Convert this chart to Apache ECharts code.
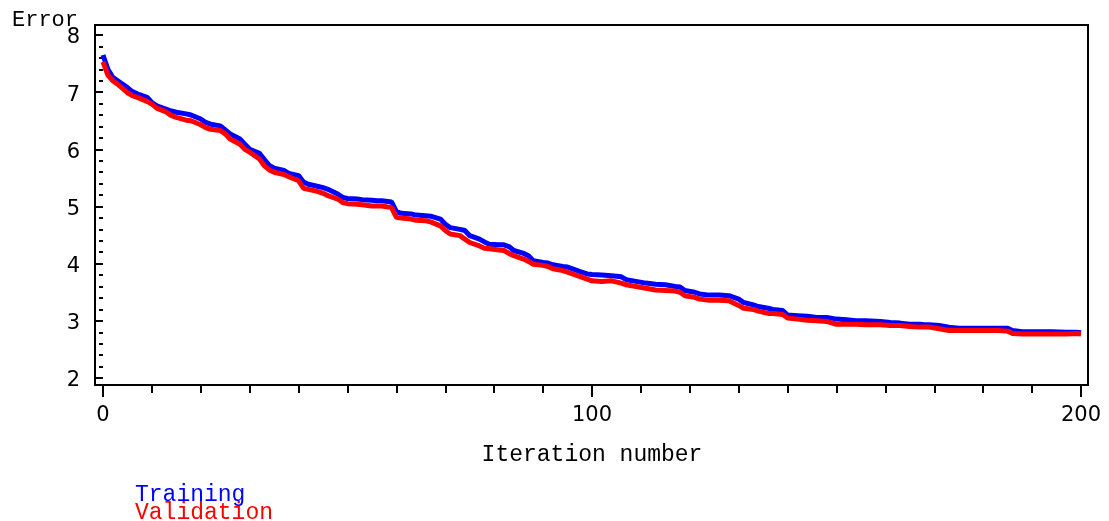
<!DOCTYPE html>
<html>
<head>
<meta charset="utf-8">
<script src="https://cdn.jsdelivr.net/npm/echarts@6/dist/echarts.min.js"></script>
<style>
  html, body { margin: 0; padding: 0; background: #fff; }
  #chart { width: 1109px; height: 521px; }
</style>
</head>
<body>
<div id="chart"></div>
<script>
// Error per training iteration for the two data partitions
const iterations = [
  0, 1, 2, 3, 5, 6, 7, 9, 10, 11, 13, 14, 15, 17, 18, 20, 21, 22, 24, 25,
  26, 28, 29, 30, 32, 33, 34, 35, 37, 38, 40, 41, 42, 44, 45, 46, 48, 49, 50, 52,
  53, 55, 56, 57, 59, 60, 61, 63, 64, 66, 67, 69, 70, 71, 73, 74, 75, 77, 78, 79,
  81, 82, 83, 84, 86, 87, 88, 90, 91, 92, 94, 95, 96, 98, 99, 100, 102, 104, 106, 107,
  109, 111, 113, 115, 117, 118, 119, 121, 122, 124, 126, 128, 130, 131, 133, 134, 136, 137, 139, 140,
  142, 144, 146, 148, 150, 152, 154, 156, 159, 161, 163, 165, 167, 168, 169, 171, 173, 175, 177, 179,
  181, 183, 185, 186, 188, 190, 192, 194, 197, 199, 200
];
const training = [
  7.65, 7.40, 7.26, 7.20, 7.08, 7.01, 6.97, 6.91, 6.82, 6.76, 6.70, 6.67, 6.65, 6.62, 6.60, 6.53, 6.47, 6.44, 6.41, 6.34,
  6.27, 6.18, 6.09, 6.00, 5.93, 5.82, 5.72, 5.67, 5.63, 5.58, 5.54, 5.43, 5.39, 5.35, 5.33, 5.30, 5.22, 5.16, 5.14, 5.13,
  5.12, 5.11, 5.10, 5.10, 5.08, 4.91, 4.88, 4.87, 4.85, 4.84, 4.83, 4.78, 4.69, 4.63, 4.60, 4.58, 4.49, 4.43, 4.38, 4.34,
  4.33, 4.33, 4.30, 4.23, 4.18, 4.14, 4.05, 4.02, 4.01, 3.98, 3.95, 3.94, 3.91, 3.85, 3.82, 3.81, 3.80, 3.79, 3.77, 3.72,
  3.69, 3.66, 3.64, 3.63, 3.60, 3.59, 3.53, 3.50, 3.47, 3.45, 3.45, 3.44, 3.38, 3.32, 3.28, 3.25, 3.22, 3.20, 3.18, 3.10,
  3.09, 3.08, 3.06, 3.06, 3.03, 3.02, 3.00, 3.00, 2.99, 2.97, 2.96, 2.94, 2.94, 2.93, 2.93, 2.92, 2.89, 2.87, 2.87, 2.87,
  2.87, 2.87, 2.87, 2.83, 2.81, 2.81, 2.81, 2.81, 2.80, 2.80, 2.79
];
const validation = [
  7.53, 7.30, 7.20, 7.14, 6.99, 6.94, 6.91, 6.84, 6.79, 6.72, 6.65, 6.59, 6.56, 6.51, 6.50, 6.43, 6.38, 6.35, 6.33, 6.27,
  6.18, 6.09, 6.00, 5.95, 5.83, 5.71, 5.64, 5.60, 5.56, 5.52, 5.45, 5.32, 5.30, 5.26, 5.23, 5.19, 5.13, 5.07, 5.05, 5.04,
  5.03, 5.01, 5.01, 5.01, 4.98, 4.81, 4.80, 4.78, 4.76, 4.75, 4.73, 4.66, 4.58, 4.52, 4.49, 4.43, 4.37, 4.31, 4.27, 4.26,
  4.24, 4.23, 4.18, 4.14, 4.08, 4.04, 3.99, 3.97, 3.95, 3.91, 3.88, 3.85, 3.82, 3.76, 3.73, 3.70, 3.69, 3.70, 3.66, 3.63,
  3.60, 3.57, 3.54, 3.53, 3.52, 3.50, 3.44, 3.41, 3.38, 3.36, 3.36, 3.35, 3.27, 3.22, 3.20, 3.17, 3.13, 3.13, 3.11, 3.05,
  3.03, 3.01, 3.00, 2.99, 2.94, 2.94, 2.94, 2.93, 2.93, 2.92, 2.92, 2.90, 2.89, 2.89, 2.89, 2.86, 2.83, 2.83, 2.83, 2.83,
  2.83, 2.83, 2.82, 2.78, 2.77, 2.77, 2.77, 2.77, 2.77, 2.78, 2.77
];
const xTicks = [0, 100, 200];
const yTicks = [2, 3, 4, 5, 6, 7, 8];
const seriesNames = ['Training', 'Validation'];
const axisTitles = { x: 'Iteration number', y: 'Error' };

const BLUE = '#0000ff';
const RED = '#ff0000';
const INK = '#000000';
const MONO = '"Liberation Mono", "DejaVu Sans Mono", monospace';
const SANS = '"DejaVu Sans", "Liberation Sans", sans-serif';

const pairs = (ys) => iterations.map((x, k) => [x, ys[k]]);

// one legend block per series, stacked as two text lines with no icons
const legendLine = (name, color, top) => ({
  left: 130,
  top: top,
  padding: 0,
  itemWidth: 0,
  itemHeight: 0,
  icon: 'none',
  selectedMode: false,
  textStyle: { fontFamily: MONO, fontSize: 23, color: color },
  data: [name]
});

const chart = echarts.init(document.getElementById('chart'), null, { renderer: 'canvas' });

chart.setOption({
  backgroundColor: '#ffffff',
  animation: false,
  grid: { left: 103, right: 28, top: 35, bottom: 143, containLabel: false },
  xAxis: {
    type: 'value',
    min: xTicks[0],
    max: xTicks[xTicks.length - 1],
    interval: xTicks[1] - xTicks[0],
    offset: 7,
    axisLine: { show: false },
    axisTick: { show: true, length: 12, lineStyle: { color: INK, width: 2 } },
    minorTick: { show: true, splitNumber: 10, length: 8, lineStyle: { color: INK, width: 2 } },
    splitLine: { show: false },
    axisLabel: { color: INK, fontFamily: SANS, fontSize: 21, margin: 20 }
  },
  yAxis: {
    type: 'value',
    min: yTicks[0],
    max: yTicks[yTicks.length - 1],
    interval: 1,
    offset: 8,
    axisLine: { show: false },
    axisTick: { show: true, length: 7, lineStyle: { color: INK, width: 2 } },
    minorTick: { show: true, splitNumber: 5, length: 4, lineStyle: { color: INK, width: 2 } },
    splitLine: { show: false },
    axisLabel: {
      margin: 15,
      formatter: '{n|{value}}',
      rich: { n: { color: INK, fontFamily: SANS, fontSize: 21, padding: [6, 0, 0, 0] } }
    }
  },
  legend: [
    legendLine(seriesNames[0], BLUE, 483),
    legendLine(seriesNames[1], RED, 501)
  ],
  graphic: [
    {
      type: 'rect',
      shape: { x: 95, y: 25, width: 993, height: 360 },
      style: { fill: 'none', stroke: INK, lineWidth: 2 },
      z: 10
    },
    {
      type: 'text',
      left: 12,
      top: 9,
      style: { text: axisTitles.y, fill: INK, font: '22px ' + MONO }
    },
    {
      type: 'text',
      x: 592,
      y: 455,
      style: {
        text: axisTitles.x, fill: INK, font: '23px ' + MONO,
        textAlign: 'center', textVerticalAlign: 'middle'
      }
    }
  ],
  series: [
    {
      name: seriesNames[0],
      type: 'line',
      data: pairs(training),
      showSymbol: false,
      color: BLUE,
      lineStyle: { color: BLUE, width: 5 },
      z: 3
    },
    {
      name: seriesNames[1],
      type: 'line',
      data: pairs(validation),
      showSymbol: false,
      color: RED,
      lineStyle: { color: RED, width: 5 },
      z: 4
    }
  ]
});
</script>
</body>
</html>
